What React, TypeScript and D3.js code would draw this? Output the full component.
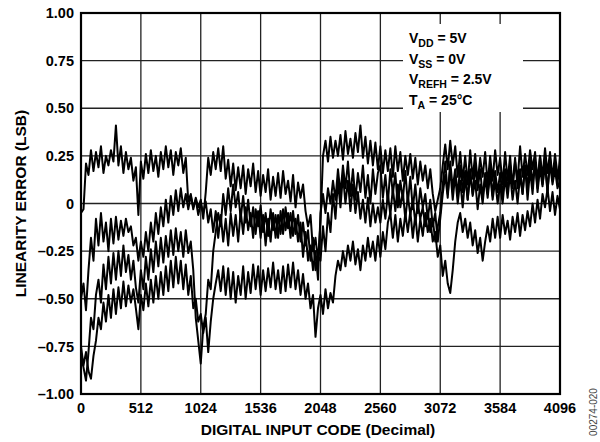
import React from "react";
import * as d3 from "d3";

const CODE_MAX = 4096;
const xTicks = [0, 512, 1024, 1536, 2048, 2560, 3072, 3584, 4096];
const yTicks = [-1, -0.75, -0.5, -0.25, 0, 0.25, 0.5, 0.75, 1];
const yTickLabels = ["–1.00", "–0.75", "–0.50", "–0.25", "0", "0.25", "0.50", "0.75", "1.00"];

// Samples evenly spaced over 0..4096 codes (193 per trace)
const trace1 = [
  -0.05, -0.03, 0.21, 0.15, 0.28, 0.17, 0.27, 0.19, 0.3, 0.16, 0.25, 0.2, 0.28, 0.22, 0.41, 0.2, 0.3, 0.16, 0.27, 0.18, 0.24, 0.12, 0.19, -0.06,
  0.22, 0.13, 0.26, 0.16, 0.28, 0.17, 0.25, 0.14, 0.27, 0.18, 0.3, 0.19, 0.28, 0.15, 0.27, 0.2, 0.29, 0.16, 0.24, 0.01, 0.05, -0.03, 0.03, -0.02,
  0.02, -0.08, 0.06, 0.24, 0.15, 0.27, 0.18, 0.29, 0.17, 0.3, 0.13, 0.23, 0.09, 0.21, 0.07, 0.19, 0.08, 0.2, 0.05, 0.18, 0.09, 0.21, 0.06, 0.17,
  0.04, 0.15, 0.06, 0.18, 0.02, 0.14, 0.04, 0.16, 0.03, 0.17, 0.05, 0.12, 0.01, 0.15, -0.02, 0.11, 0.03, 0.1, -0.04, -0.12, -0.06, -0.25, -0.18, -0.3,
  -0.1, 0.25, 0.33, 0.22, 0.35, 0.24, 0.33, 0.25, 0.36, 0.23, 0.38, 0.26, 0.34, 0.24, 0.37, 0.27, 0.41, 0.24, 0.35, 0.21, 0.33, 0.2, 0.32, 0.18,
  0.3, 0.16, 0.28, 0.17, 0.29, 0.14, 0.3, 0.17, 0.27, 0.12, 0.25, 0.15, 0.26, 0.13, 0.24, 0.1, 0.22, 0.12, 0.2, 0.08, 0.18, 0.05, -0.04, 0.02,
  0.08, 0.2, 0.31, 0.18, 0.33, 0.2, 0.3, 0.14, 0.27, 0.12, 0.25, 0.1, 0.28, 0.13, 0.26, 0.11, 0.24, 0.14, 0.27, 0.1, 0.25, 0.12, 0.28, 0.15,
  0.24, 0.1, 0.27, 0.12, 0.25, 0.08, 0.22, 0.12, 0.3, 0.14, 0.26, 0.15, 0.28, 0.18, 0.27, 0.12, 0.25, 0.14, 0.29, 0.16, 0.27, 0.13, 0.26, 0.15,
  0.2,
];

const trace2 = [
  -0.5, -0.42, -0.56, -0.35, -0.18, -0.3, -0.08, -0.22, -0.05, -0.2, -0.1, -0.25, -0.08, -0.21, -0.07, -0.19, -0.09, -0.17, -0.08, -0.15, -0.12, -0.22, -0.18, -0.3,
  -0.2, -0.28, -0.15, -0.25, -0.1, -0.2, -0.05, -0.16, -0.02, -0.12, 0.02, -0.1, 0.04, -0.06, 0.07, -0.04, 0.08, -0.02, 0.05, -0.03, 0.04, -0.02, 0.02, -0.06,
  0.0, -0.05, 0.01, -0.1, -0.03, -0.15, -0.04, -0.18, -0.06, -0.2, -0.08, -0.22, -0.05, -0.17, -0.06, -0.2, -0.04, -0.16, -0.02, -0.14, -0.05, -0.18, -0.03, -0.12,
  -0.01, -0.15, -0.05, -0.17, -0.03, -0.14, -0.06, -0.18, -0.04, -0.16, -0.02, -0.13, -0.05, -0.17, -0.08, -0.2, -0.1, -0.28, -0.15, -0.3, -0.22, -0.35, -0.25, -0.4,
  -0.05, 0.05, -0.05, 0.08, 0.0, 0.12, 0.02, 0.18, 0.05, 0.2, 0.08, 0.22, 0.04, 0.18, 0.02, 0.16, 0.06, 0.2, 0.03, 0.15, 0.0, 0.18, 0.05, 0.16,
  0.2, 0.03, 0.15, 0.0, 0.18, 0.05, 0.16, -0.02, 0.12, 0.02, 0.17, 0.0, 0.14, -0.03, 0.1, -0.05, 0.08, -0.02, 0.05, -0.08, 0.02, -0.12, -0.05, -0.2,
  -0.08, 0.05, 0.15, 0.03, 0.22, 0.08, 0.18, 0.04, 0.2, 0.06, 0.17, 0.02, 0.15, 0.05, 0.2, 0.07, 0.18, 0.03, 0.16, 0.05, 0.19, 0.04, 0.17, 0.06,
  0.16, 0.04, 0.18, 0.06, 0.2, 0.1, 0.24, 0.08, 0.18, 0.05, 0.2, 0.08, 0.24, 0.1, 0.22, 0.06, 0.19, 0.09, 0.23, 0.07, 0.21, 0.1, 0.18, 0.08,
  0.12,
];

const trace3 = [
  -0.8, -0.86, -0.93, -0.78, -0.6, -0.66, -0.48, -0.4, -0.52, -0.32, -0.45, -0.28, -0.42, -0.26, -0.4, -0.25, -0.38, -0.22, -0.36, -0.27, -0.4, -0.3, -0.44, -0.52,
  -0.35, -0.45, -0.28, -0.4, -0.24, -0.36, -0.2, -0.33, -0.18, -0.31, -0.17, -0.28, -0.14, -0.27, -0.13, -0.25, -0.15, -0.28, -0.14, -0.26, -0.2, -0.35, -0.6, -0.72,
  -0.84, -0.65, -0.58, -0.4, -0.45, -0.25, -0.15, -0.05, -0.12, 0.05, -0.06, 0.08, -0.04, 0.1, -0.02, 0.06, -0.08, 0.04, -0.1, 0.02, -0.12, -0.02, -0.16, -0.04,
  -0.18, -0.06, -0.22, -0.08, -0.2, -0.05, -0.18, -0.06, -0.16, -0.03, -0.14, -0.05, -0.18, -0.04, -0.16, -0.06, -0.2, -0.1, -0.22, -0.14, -0.3, -0.18, -0.35, -0.28,
  -0.3, -0.12, -0.25, -0.05, -0.15, 0.05, -0.08, 0.12, -0.02, 0.15, 0.0, 0.12, -0.04, 0.1, -0.05, 0.06, -0.08, 0.02, -0.1, 0.03, -0.12, 0.0, -0.1, -0.02,
  -0.1, 0.02, -0.08, 0.05, -0.06, 0.08, -0.04, 0.1, -0.02, 0.06, -0.08, 0.04, -0.06, 0.02, -0.1, 0.0, -0.08, -0.02, -0.12, -0.04, -0.15, -0.08, -0.2, -0.12,
  -0.05, 0.1, 0.22, 0.05, 0.18, 0.02, 0.15, 0.0, 0.12, -0.02, 0.14, 0.02, 0.18, 0.04, 0.12, -0.03, 0.1, 0.0, 0.14, 0.03, 0.16, 0.02, 0.12, 0.0,
  0.1, 0.0, 0.14, 0.03, 0.16, 0.02, 0.12, 0.0, 0.15, 0.05, 0.2, 0.02, 0.18, 0.05, 0.22, 0.08, 0.25, 0.1, 0.2, 0.06, 0.24, 0.12, 0.22, 0.1,
  0.25,
];

const trace4 = [
  -0.75, -0.85, -0.78, -0.88, -0.92, -0.8, -0.72, -0.6, -0.66, -0.52, -0.62, -0.48, -0.6, -0.45, -0.58, -0.44, -0.55, -0.41, -0.54, -0.43, -0.52, -0.45, -0.55, -0.66,
  -0.48, -0.56, -0.42, -0.54, -0.4, -0.52, -0.38, -0.5, -0.36, -0.48, -0.33, -0.46, -0.3, -0.44, -0.28, -0.42, -0.3, -0.45, -0.32, -0.48, -0.38, -0.55, -0.5, -0.62,
  -0.58, -0.68, -0.6, -0.78, -0.62, -0.5, -0.42, -0.35, -0.46, -0.33, -0.48, -0.34, -0.5, -0.36, -0.52, -0.38, -0.48, -0.33, -0.5, -0.36, -0.47, -0.32, -0.45, -0.33,
  -0.48, -0.35, -0.46, -0.34, -0.44, -0.31, -0.45, -0.35, -0.47, -0.33, -0.46, -0.32, -0.44, -0.31, -0.45, -0.35, -0.48, -0.37, -0.5, -0.42, -0.55, -0.48, -0.7, -0.55,
  -0.48, -0.58, -0.45, -0.55, -0.47, -0.52, -0.38, -0.3, -0.35, -0.25, -0.33, -0.22, -0.3, -0.2, -0.32, -0.24, -0.35, -0.22, -0.3, -0.18, -0.28, -0.2, -0.3, -0.17,
  -0.28, -0.15, -0.24, -0.1, -0.05, -0.18, -0.06, -0.2, -0.08, -0.17, -0.05, -0.15, -0.04, -0.18, -0.06, -0.2, -0.08, -0.17, -0.05, -0.15, -0.08, -0.2, -0.15, -0.28,
  -0.22, -0.38, -0.3, -0.42, -0.47, -0.35, -0.2, -0.1, -0.05, -0.15, -0.08, -0.18, -0.1, -0.22, -0.14, -0.26, -0.18, -0.3, -0.2, -0.12, -0.2, -0.08, -0.18, -0.07,
  -0.18, -0.06, -0.16, -0.09, -0.19, -0.07, -0.15, -0.05, -0.17, -0.06, -0.14, -0.04, -0.12, 0.0, -0.1, 0.02, -0.08, 0.05, -0.02, 0.08, -0.04, 0.06, -0.06, 0.04,
  -0.03,
];

const traces = [trace1, trace2, trace3, trace4];

const conditions = [
  { main: "V", sub: "DD", rest: " = 5V" },
  { main: "V", sub: "SS", rest: " = 0V" },
  { main: "V", sub: "REFH", rest: " = 2.5V" },
  { main: "T", sub: "A", rest: " = 25°C" },
];

const FONT = "Arial, 'Liberation Sans', Helvetica, sans-serif";

export default function App() {
  const L = 81, R = 560, T = 13, B = 394;
  const x = d3.scaleLinear().domain([0, CODE_MAX]).range([L, R]);
  const y = d3.scaleLinear().domain([-1, 1]).range([B, T]);

  return (
    <svg
      width={600}
      height={442}
      style={{ position: "absolute", left: 0, top: 0, background: "#fff" }}
      fontFamily={FONT}
    >
      <defs>
        <clipPath id="plotclip">
          <rect x={L} y={T} width={R - L} height={B - T} />
        </clipPath>
      </defs>
      <rect x={0} y={0} width={600} height={442} fill="#fff" />
      {xTicks.map((t) => (
        <line key={"gx" + t} x1={x(t)} x2={x(t)} y1={T} y2={B} stroke="#222" strokeWidth={1.3} />
      ))}
      {yTicks.map((t) => (
        <line key={"gy" + t} x1={L} x2={R} y1={y(t)} y2={y(t)} stroke="#222" strokeWidth={1.3} />
      ))}
      <g clipPath="url(#plotclip)">
        {traces.map((tr, k) => {
          const n = tr.length - 1;
          const gen = d3
            .line<number>()
            .x((_, i) => x((i * CODE_MAX) / n))
            .y((d) => y(d));
          return (
            <path
              key={"tr" + k}
              d={gen(tr) || ""}
              fill="none"
              stroke="#000"
              strokeWidth={2}
              strokeLinejoin="round"
            />
          );
        })}
      </g>
      <rect x={403} y={24} width={120} height={88} fill="#fff" />
      {conditions.map((c, i) => (
        <text key={"c" + i} x={409} y={43 + i * 20.7} fontSize={14} fontWeight="bold" fill="#000">
          {c.main}
          <tspan fontSize={10.5} dy={4}>{c.sub}</tspan>
          <tspan dy={-4}>{c.rest}</tspan>
        </text>
      ))}
      <rect x={L} y={T} width={R - L} height={B - T} fill="none" stroke="#000" strokeWidth={2.2} />
      {yTicks.map((t, i) => (
        <text
          key={"yl" + t}
          x={74}
          y={y(t)}
          dy="0.36em"
          textAnchor="end"
          fontSize={14.5}
          fontWeight="bold"
          fill="#000"
        >
          {yTickLabels[i]}
        </text>
      ))}
      {xTicks.map((t) => (
        <text
          key={"xl" + t}
          x={x(t)}
          y={413}
          textAnchor="middle"
          fontSize={14.5}
          fontWeight="bold"
          fill="#000"
        >
          {t}
        </text>
      ))}
      <text x={318} y={435} textAnchor="middle" fontSize={15.5} fontWeight="bold" fill="#000">
        DIGITAL INPUT CODE (Decimal)
      </text>
      <text
        transform={`translate(26, ${(T + B) / 2}) rotate(-90)`}
        textAnchor="middle"
        fontSize={15.5}
        fontWeight="bold"
        fill="#000"
      >
        LINEARITY ERROR (LSB)
      </text>
      <text
        transform="translate(597, 412) rotate(-90)"
        textAnchor="middle"
        fontSize={10}
        fill="#444"
      >
        00274-020
      </text>
    </svg>
  );
}
